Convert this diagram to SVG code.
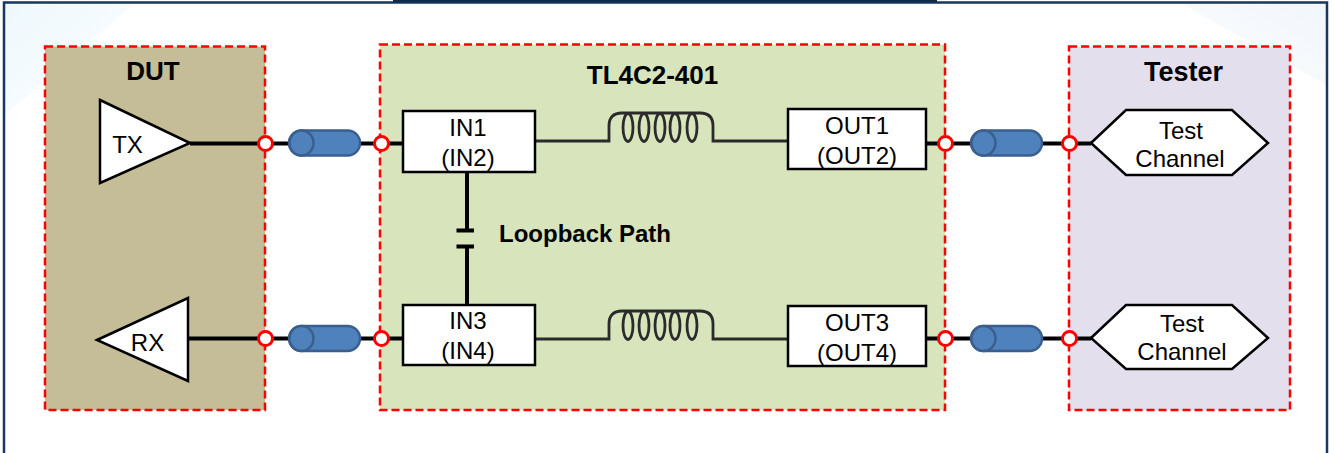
<svg xmlns="http://www.w3.org/2000/svg" width="1334" height="453" viewBox="0 0 1334 453">
<style>
text{font-family:"Liberation Sans",Arial,sans-serif;fill:#000;text-anchor:middle}
.t{font-size:24px}
.h{font-size:26px;font-weight:bold}
.zone{stroke:#ff0000;stroke-width:2.5;stroke-dasharray:8 4}
.shape{fill:#fff;stroke:#000;stroke-width:2.5;stroke-linejoin:miter}
.wire{stroke:#000;stroke-width:4;fill:none}
.port{fill:#fff;stroke:#ff0000;stroke-width:3}
.cable{fill:#4f81bd;stroke:#3a5f8e;stroke-width:2.5}
</style>
<defs>
<linearGradient id="gl" x1="0" y1="0" x2="1" y2="1"><stop offset="0" stop-color="#eef8fd"/><stop offset="1" stop-color="#fdfeff"/></linearGradient>
<linearGradient id="gr" x1="1" y1="0" x2="0" y2="1"><stop offset="0" stop-color="#f1f6fb"/><stop offset="1" stop-color="#fdfeff"/></linearGradient>
<g id="coil" fill="none" stroke="#2b2b2b" stroke-width="2.800">
<path d="M0 0H74V-15Q74 -28 87 -28H165Q178 -28 178 -15V0H253"/>
<ellipse cx="93" cy="-13.500" rx="5" ry="14"/>
<ellipse cx="109" cy="-13.500" rx="5" ry="14"/>
<ellipse cx="125" cy="-13.500" rx="5" ry="14"/>
<ellipse cx="140" cy="-13.500" rx="5" ry="14"/>
<ellipse cx="157" cy="-13.500" rx="5" ry="14"/>
</g>
<g id="cable"><rect class="cable" x="0" y="-12.500" width="71" height="25" rx="12.500"/><ellipse class="cable" cx="12.500" cy="0" rx="12" ry="12.500"/></g>
</defs>
<rect width="1334" height="453" fill="#fff"/>
<polygon points="5,3 135,3 5,115" fill="url(#gl)"/>
<polygon points="1326,3 1180,3 1326,85" fill="url(#gr)"/>
<path d="M4 453V2.500H1327V453" fill="none" stroke="#17375e" stroke-width="2.500"/>
<rect x="393" y="0" width="544" height="2" fill="#0f2a4d"/>

<g id="dut"><rect class="zone" x="45" y="46.500" width="220" height="363.500" fill="#c4bd97"/><text class="h" x="153" y="80">DUT</text></g>
<g id="tl4c2"><rect class="zone" x="380" y="44.500" width="565" height="365.500" fill="#d7e4bc"/><text class="h" x="652.500" y="84">TL4C2-401</text></g>
<g id="tester"><rect class="zone" x="1069" y="46.500" width="221" height="363.500" fill="#e4dfec"/><text class="h" x="1183.500" y="81" style="font-size:27px">Tester</text></g>

<g id="connectors">
<path class="wire" d="M190 143.500H403M188 338.500H403M926 143.500H1091M926 338.500H1091"/>
<path class="wire" d="M467 172V230M467 246V305M456.500 230.500H474M456.500 246.500H474"/>
<use href="#coil" x="535" y="141"/>
<use href="#coil" x="535" y="339"/>
<use href="#cable" x="289" y="143"/>
<use href="#cable" x="289" y="338.500"/>
<use href="#cable" x="971" y="143"/>
<use href="#cable" x="971" y="338.500"/>
</g>

<g id="tx"><polygon class="shape" points="100,100 190,143 100,183"/><text class="t" x="127.500" y="153">TX</text></g>
<g id="rx"><polygon class="shape" points="97,340 188,298 188,381"/><text class="t" x="147.500" y="351">RX</text></g>
<g id="in1"><rect class="shape" x="403" y="111" width="132" height="61"/><text class="t" x="468" y="136">IN1</text><text class="t" x="468" y="166">(IN2)</text></g>
<g id="in3"><rect class="shape" x="403" y="305" width="132" height="60"/><text class="t" x="468" y="329">IN3</text><text class="t" x="468" y="359">(IN4)</text></g>
<g id="out1"><rect class="shape" x="788" y="109" width="138" height="60"/><text class="t" x="857" y="134">OUT1</text><text class="t" x="857" y="164">(OUT2)</text></g>
<g id="out3"><rect class="shape" x="788" y="306" width="138" height="60"/><text class="t" x="857" y="331">OUT3</text><text class="t" x="857" y="361">(OUT4)</text></g>
<g id="ch1"><polygon class="shape" points="1091,143 1126,110 1232,110 1268,143 1232,175 1126,175"/><text class="t" x="1181" y="139">Test</text><text class="t" x="1180" y="167">Channel</text></g>
<g id="ch2"><polygon class="shape" points="1091,338 1126,305 1232,305 1268,338 1232,369 1126,369"/><text class="t" x="1182" y="332">Test</text><text class="t" x="1182" y="360">Channel</text></g>
<g id="loopback"><text class="h" x="585" y="242" style="font-size:24px">Loopback Path</text></g>

<g id="ports">
<circle class="port" cx="265.500" cy="143.500" r="7"/><circle class="port" cx="381.500" cy="143.500" r="7"/>
<circle class="port" cx="265.500" cy="338.500" r="7"/><circle class="port" cx="381.500" cy="338.500" r="7"/>
<circle class="port" cx="945.500" cy="143.500" r="7"/><circle class="port" cx="1069.500" cy="143.500" r="7"/>
<circle class="port" cx="945.500" cy="338.500" r="7"/><circle class="port" cx="1069.500" cy="338.500" r="7"/>
</g>
</svg>
